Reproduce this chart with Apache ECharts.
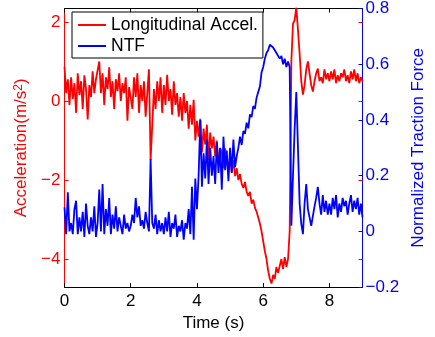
<!DOCTYPE html>
<html><head><meta charset="utf-8">
<script src="https://cdn.jsdelivr.net/npm/echarts@6/dist/echarts.min.js"></script>
<style>html,body{margin:0;padding:0;background:#fff}#c{width:435px;height:337px}</style>
</head><body><div id="c"></div>
<script>
const timeStep = 0.05;
const accel = [
 0.87, 0.2, 0.55, -0.1, 0.6, 0.05, 0.45, -0.3, 0.7, 0.15, 0.5, -0.2, 0.65, 0.3, -0.47, 0.4, 0.1, 0.75, 0.2, 0.55,
 0.5, 1.0, 0.2, 0.7, -0.1, 0.6, 0.3, 0.85, 0.1, 0.5, -0.2, 0.55, 0.25, 0.7, 0.0, 0.45, 0.2, 0.6, -0.5, 0.35,
 0.3, -0.2, 0.6, 0.1, 0.7, -0.3, 0.4, 0.0, 0.5, -0.4, 0.2, 0.8, -1.5, -0.6, 0.3, -0.2, 0.5, 0.0, 0.6, -0.3,
 0.4, -0.1, 0.66, 0.0, 0.3, -0.35, 0.5, -0.1, 0.2, -0.4, 0.1, -0.5, 0.2, -0.3, 0.0, -0.7, -0.1, -0.6, 0.03, -1.0,
 -0.5, -0.9, -0.45, -1.3, -0.7, -1.1, -0.6, -1.5, -0.8, -1.2, -0.9, -1.4, -1.0, -1.6, -1.2, -1.3, -1.7, -1.2, -1.5, -1.75,
 -1.4, -1.8, -1.5, -1.9, -1.7, -2.0, -1.85, -2.1, -2.2, -2.05, -2.3, -2.4, -2.3, -2.6, -2.5, -2.7, -2.8, -2.95, -3.1, -3.3,
 -3.55, -3.8, -4.0, -4.3, -4.5, -4.62, -4.4, -4.5, -4.2, -4.35, -4.3, -4.0, -4.25, -3.95, -4.2, -4.0, -3.3, 1.0, 1.95, 2.05,
 2.37, 1.8, 1.2, 0.5, 0.16, 0.4, 0.8, 1.0, 0.7, 0.4, 0.24, 0.5, 0.7, 0.82, 0.5, 0.6, 0.45, 0.8, 0.55, 0.7,
 0.5, 0.75, 0.55, 0.8, 0.45, 0.65, 0.5, 0.7, 0.6, 0.8, 0.5, 0.65, 0.45, 0.75, 0.55, 0.8, 0.5, 0.7, 0.45, 0.6, 0.5
];
const ntf = [
 0.087, -0.01, 0.14, 0.0, 0.03, -0.01, 0.08, 0.11, -0.01, 0.05, 0.0, 0.07, -0.02, 0.1, 0.02, -0.01, 0.05, 0.0, 0.09, -0.02,
 0.03, 0.15, 0.0, 0.17, -0.01, 0.08, 0.02, 0.12, -0.01, 0.06, 0.01, 0.09, 0.0, 0.05, 0.02, -0.01, 0.06, 0.01, 0.03, 0.0,
 0.02, 0.06, 0.03, 0.12, 0.05, 0.09, 0.02, 0.04, 0.01, 0.07, 0.03, 0.0, 0.26, 0.03, 0.01, 0.06, -0.01, 0.04, 0.0, 0.03,
 -0.01, 0.05, 0.0, 0.07, -0.02, 0.03, 0.01, 0.06, -0.02, 0.02, 0.0, 0.04, -0.03, 0.03, 0.01, 0.08, -0.01, 0.16, -0.03, 0.19,
 0.08, 0.2, 0.4, 0.16, 0.28, 0.19, 0.33, 0.17, 0.3, 0.2, 0.27, 0.17, 0.32, 0.21, 0.3, 0.15, 0.34, 0.22, 0.29, 0.18,
 0.3, 0.21, 0.33, 0.23, 0.27, 0.3, 0.34, 0.31, 0.36, 0.35, 0.39, 0.37, 0.42, 0.41, 0.45, 0.44, 0.48, 0.5, 0.52, 0.57,
 0.59, 0.62, 0.64, 0.65, 0.67, 0.675, 0.66, 0.655, 0.64, 0.635, 0.62, 0.63, 0.6, 0.62, 0.59, 0.61, 0.59, 0.02, 0.2, 0.37,
 0.5, 0.3, 0.1, 0.027, -0.01, 0.1, 0.17, 0.08, 0.05, 0.02, 0.016, 0.09, 0.12, 0.16, 0.1, 0.06, 0.13, 0.07, 0.11, 0.06,
 0.1, 0.06, 0.12, 0.08, 0.13, 0.05, 0.1, 0.07, 0.12, 0.09, 0.11, 0.06, 0.1, 0.13, 0.07, 0.11, 0.08, 0.12, 0.06, 0.1, 0.05
];
const xTicks = [0, 2, 4, 6, 8];
const leftTicks = [-4, -2, 0, 2];
const seriesNames = ['Longitudinal Accel.', 'NTF'];

const FONT = "'Liberation Sans', Arial, sans-serif";
const RED = '#ff0000', BLUE = '#0000ff';
const times = accel.map((_, i) => +(i * timeStep).toFixed(2));
const fmt = v => { const r = Math.round(v * 100) / 100; return r < 0 ? '\u2212' + Math.abs(r) : String(r); };

const chart = echarts.init(document.getElementById('c'), null, {renderer: 'canvas'});
chart.setOption({
  animation: false,
  textStyle: {fontFamily: FONT},
  grid: {left: 64.5, right: 63, top: 6, bottom: 49, containLabel: false},
  legend: {
    data: seriesNames, orient: 'vertical', left: 72, top: 12,
    backgroundColor: '#fff', borderColor: '#000', borderWidth: 1, borderRadius: 0,
    padding: [3, 5, 2, 6], itemGap: 1, itemWidth: 28, itemHeight: 2, icon: 'rect',
    textStyle: {fontFamily: FONT, fontSize: 17.5, color: '#000', lineHeight: 20}
  },
  xAxis: [{
    type: 'value', min: 0, max: 9, position: 'bottom',
    name: 'Time (s)', nameLocation: 'middle', nameGap: 22,
    nameTextStyle: {fontFamily: FONT, fontSize: 17, color: '#000'},
    axisLine: {onZero: false, lineStyle: {color: '#000', width: 1}},
    axisTick: {inside: true, length: 4, customValues: xTicks, lineStyle: {color: '#000'}},
    axisLabel: {customValues: xTicks, fontFamily: FONT, fontSize: 17, color: '#000', margin: 6},
    splitLine: {show: false}
  }, {
    type: 'value', min: 0, max: 9, position: 'top',
    axisLine: {onZero: false, lineStyle: {color: '#000', width: 1}},
    axisTick: {inside: true, length: 4, customValues: xTicks, lineStyle: {color: '#000'}},
    axisLabel: {show: false}, splitLine: {show: false}
  }],
  yAxis: [{
    type: 'value', min: -4.71, max: 2.34, position: 'left',
    name: '{a|Acceleration(m/s}{s|2}{a|)}', nameLocation: 'middle', nameGap: 27, nameRotate: 90,
    nameTextStyle: {color: RED, rich: {
      a: {fontFamily: FONT, fontSize: 17, color: RED},
      s: {fontFamily: FONT, fontSize: 12, color: RED, verticalAlign: 'top', padding: [0, 0, 6, 0]}
    }},
    axisLine: {show: true, onZero: false, lineStyle: {color: RED, width: 1}},
    axisTick: {inside: true, length: 4, customValues: leftTicks, lineStyle: {color: RED}},
    axisLabel: {customValues: leftTicks, formatter: fmt, fontFamily: FONT, fontSize: 17, color: RED, margin: 4},
    splitLine: {show: false}
  }, {
    type: 'value', min: -0.2, max: 0.8, interval: 0.2, position: 'right',
    name: 'Normalized Traction Force', nameLocation: 'middle', nameGap: 38, nameRotate: 90,
    nameTextStyle: {fontFamily: FONT, fontSize: 17, color: BLUE},
    axisLine: {show: true, onZero: false, lineStyle: {color: BLUE, width: 1}},
    axisTick: {inside: true, length: 4, lineStyle: {color: BLUE}},
    axisLabel: {formatter: fmt, fontFamily: FONT, fontSize: 17, color: BLUE, margin: 3},
    splitLine: {show: false}
  }, {
    type: 'value', min: -4.71, max: 2.34, position: 'right',
    axisLine: {show: false, onZero: false},
    axisTick: {inside: true, length: 4, customValues: leftTicks, lineStyle: {color: RED}},
    axisLabel: {show: false}, splitLine: {show: false}
  }],
  series: [{
    name: seriesNames[0], type: 'line', xAxisIndex: 0, yAxisIndex: 0,
    data: times.map((t, i) => [t, accel[i]]),
    symbol: 'none', lineStyle: {color: RED, width: 1.8}, itemStyle: {color: RED}, z: 2
  }, {
    name: seriesNames[1], type: 'line', xAxisIndex: 0, yAxisIndex: 1,
    data: times.map((t, i) => [t, ntf[i]]),
    symbol: 'none', lineStyle: {color: BLUE, width: 1.8}, itemStyle: {color: BLUE}, z: 3
  }]
});
</script></body></html>
